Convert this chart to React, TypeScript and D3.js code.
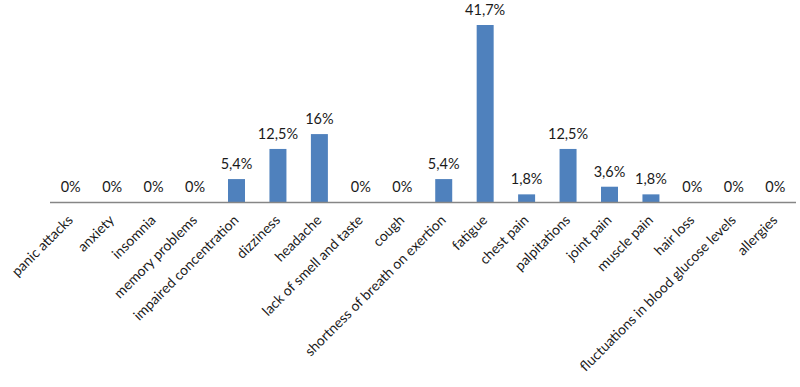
import React, { useRef, useEffect } from 'react';
import { select, scaleBand, scaleLinear } from 'd3';

const symptoms = [
  'panic attacks', 'anxiety', 'insomnia', 'memory problems', 'impaired concentration',
  'dizziness', 'headache', 'lack of smell and taste', 'cough', 'shortness of breath on exertion',
  'fatigue', 'chest pain', 'palpitations', 'joint pain', 'muscle pain', 'hair loss',
  'fluctuations in blood glucose levels', 'allergies',
];
const percents = [0, 0, 0, 0, 5.4, 12.5, 16, 0, 0, 5.4, 41.7, 1.8, 12.5, 3.6, 1.8, 0, 0, 0];
const percentLabels = ['0%', '0%', '0%', '0%', '5,4%', '12,5%', '16%', '0%', '0%', '5,4%', '41,7%', '1,8%', '12,5%', '3,6%', '1,8%', '0%', '0%', '0%'];

const W = 800;
const H = 387;

const Chart = () => {
  const svgRef = useRef<SVGSVGElement>(null);

  useEffect(() => {
    const svg = select(svgRef.current);
    svg.selectAll('*').remove();

    const x = scaleBand().domain(symptoms).range([50, 796]).paddingInner(0.59).paddingOuter(0.295);
    const y = scaleLinear().domain([0, 45]).range([202, 11]);
    const font = 'Lato, "Open Sans", sans-serif';

    svg.selectAll('.bar')
      .data(percents)
      .join('rect')
      .attr('class', 'bar')
      .attr('x', (d, i) => x(symptoms[i]))
      .attr('y', d => y(d))
      .attr('width', x.bandwidth())
      .attr('height', d => y(0) - y(d))
      .attr('fill', '#4f81bd');

    svg.append('line')
      .attr('x1', 50).attr('x2', 796)
      .attr('y1', y(0) + 0.5).attr('y2', y(0) + 0.5)
      .attr('stroke', '#868686').attr('stroke-width', 1.5);

    svg.selectAll('.val')
      .data(percents)
      .join('text')
      .attr('class', 'val')
      .attr('x', (d, i) => x(symptoms[i]) + x.bandwidth() / 2)
      .attr('y', d => y(d) - 10)
      .attr('text-anchor', 'middle')
      .attr('font-family', font)
      .attr('font-size', 14.5)
      .attr('fill', '#1a1a1a')
      .text((d, i) => percentLabels[i]);

    svg.selectAll('.cat')
      .data(symptoms)
      .join('text')
      .attr('class', 'cat')
      .attr('transform', d => `translate(${x(d) + x.bandwidth() / 2 + 3},${y(0) + 19}) rotate(-45)`)
      .attr('text-anchor', 'end')
      .attr('font-family', font)
      .attr('font-size', 14)
      .attr('fill', '#1a1a1a')
      .text(d => d);
  }, []);

  return <svg ref={svgRef} width={W} height={H} style={{ display: 'block', background: '#fff' }} />;
};

export default function App() {
  useEffect(() => {
    document.body.style.margin = '0';
  }, []);
  return <Chart />;
}
